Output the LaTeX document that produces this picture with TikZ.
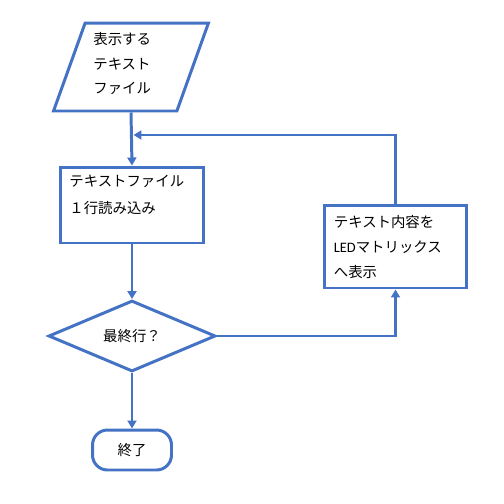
\documentclass[tikz,border=0pt]{standalone}
\usepackage{fontspec}
\newfontfamily\jpfont{Noto Sans CJK JP}
\newfontfamily\ledfont{Carlito}
\usetikzlibrary{shapes.geometric,arrows.meta,positioning}
\definecolor{flowblue}{RGB}{68,114,196}

\begin{document}
\begin{tikzpicture}[x=0.02cm, y=-0.02cm,
  base/.style={draw=flowblue, line width=1.7pt, fill=white,
               font=\jpfont\fontsize{8.2}{14}\selectfont},
  io/.style={base, trapezium, trapezium left angle=71, trapezium right angle=109,
             trapezium stretches=true, minimum width=3.1cm, minimum height=1.76cm},
  proc/.style={base, rectangle, inner sep=0pt},
  decision/.style={base, diamond, minimum width=3.34cm, minimum height=1.38cm, inner sep=0pt},
  term/.style={base, rectangle, rounded corners=0.3cm, minimum width=1.58cm,
               minimum height=0.8cm},
  txt/.style={font=\jpfont\fontsize{8.2}{14}\selectfont, align=left, inner sep=0pt},
  arr/.style={-{Triangle[length=0.16cm, width=0.18cm]}, line width=1.7pt, draw=flowblue}
]
\useasboundingbox (0,0) rectangle (504,504);

% Input: text file
\node[io] (input) at (131,67) {};
\node[txt, anchor=north west] (inputtxt) at ([shift={(-38,-35)}]input.center)
  {表示する\\テキスト\\ファイル};

% Read one line
\node[proc, minimum width=2.86cm, minimum height=1.52cm] (readline) at (132,205) {};
\node[txt, anchor=north west] (readtxt) at ([shift={(10,9)}]readline.north west)
  {テキストファイル\\[1.5pt]１行読み込み};

% Last line?
\node[decision] (lastline) at (132,336) {最終行？};

% End
\node[term] (finish) at (132,450) {終了};

% Show on LED matrix
\node[proc, minimum width=2.86cm, minimum height=1.66cm] (showled) at (395.5,246.5) {};
\node[txt, anchor=north west] (showtxt) at ([shift={(11,12)}]showled.north west)
  {テキスト内容を\\{\ledfont LED}マトリックス\\へ表示};

\coordinate (loopin) at (132,135);

\draw[arr] (input.south) -- (readline.north);
\draw[arr] (readline.south) -- (lastline.north);
\draw[arr] (lastline.south) -- (finish.north);
\draw[arr] (lastline.east) -| (showled.south);
\draw[arr, shorten >=0.03cm] (showled.north) |- (loopin);

\end{tikzpicture}
\end{document}
